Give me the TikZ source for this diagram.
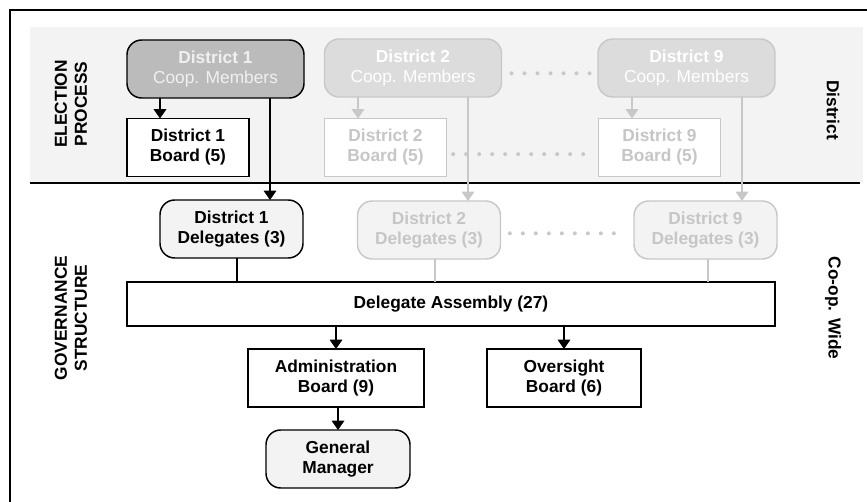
\documentclass[tikz,border=0pt]{standalone}
\usepackage{fontspec}
\setmainfont{Liberation Sans}
\usetikzlibrary{arrows.meta}

\definecolor{bandgray}{HTML}{F3F3F3}
\definecolor{darkfill}{HTML}{BBBBBB}
\definecolor{fadefill}{HTML}{DCDCDC}
\definecolor{fadeline}{HTML}{C8C8C8}
\definecolor{fadetext}{HTML}{C6C6C6}
\definecolor{lightfill}{HTML}{F3F3F3}

\begin{document}
\begin{tikzpicture}[x=0.75pt, y=-0.75pt,
	font=\fontsize{13}{15}\selectfont\bfseries,
	box/.style={draw=black, line width=1.1pt, fill=white, align=center, inner sep=0pt, outer sep=0pt, minimum height=43.5pt},
	rbox/.style={box, rounded corners=11pt},
	faded/.style={draw=fadeline, text=fadetext},
	arr/.style={line width=0.9pt, -{Triangle[width=9.5pt,length=7pt]}},
	fadearr/.style={arr, fadeline},
	dots/.style={draw=fadeline, line width=3pt, line cap=round, dash pattern=on 0pt off 9.75pt},
	side/.style={align=center}]
	
	\useasboundingbox (0,0) rectangle (867,502);
	
	% frame and election band
	\draw[line width=1.6pt] (10,502) -- (10,10) -- (867,10);
	\fill[bandgray] (30,27) rectangle (863,183);
	\draw[line width=0.8pt] (30,183) -- (860,183);
	
	% side labels
	\node[side, rotate=90]  (elec) at (71,104)  {ELECTION\\PROCESS};
	\node[side, rotate=90]  (gov)  at (71,318)  {GOVERNANCE\\STRUCTURE};
	\node[side, rotate=-90] (dist) at (833,110) {District};
	\node[side, rotate=-90] (wide) at (833,308) {Co-op. Wide};
	
	% district members
	\node[rbox, fill=darkfill, text=black!6, minimum width=132.75pt] (m1) at (215.5,69) {District 1\\{\mdseries Coop. Members}};
	\node[rbox, faded, fill=fadefill, text=white, minimum width=132.75pt] (m2) at (413,68) {District 2\\{\mdseries Coop. Members}};
	\node[rbox, faded, fill=fadefill, text=white, minimum width=132.75pt] (m9) at (686.5,68) {District 9\\{\mdseries Coop. Members}};
	
	% district boards
	\node[box, minimum width=91.5pt] (b1) at (188,147.5)   {District 1\\Board (5)};
	\node[box, faded, minimum width=91.5pt] (b2) at (385.5,147.5) {District 2\\Board (5)};
	\node[box, faded, minimum width=91.5pt] (b9) at (659.5,147.5) {District 9\\Board (5)};
	
	% delegates
	\node[rbox, fill=lightfill, minimum width=107.25pt] (d1) at (231.5,229) {District 1\\Delegates (3)};
	\node[rbox, faded, fill=lightfill, minimum width=107.25pt] (d2) at (429,230) {District 2\\Delegates (3)};
	\node[rbox, faded, fill=lightfill, minimum width=107.25pt] (d9) at (705.5,230) {District 9\\Delegates (3)};
	
	% co-op wide bodies
	\node[box, minimum width=486pt, minimum height=33pt] (asm) at (451,304) {Delegate Assembly (27)};
	\node[box, minimum width=132pt] (admin) at (336,378) {Administration\\Board (9)};
	\node[box, minimum width=115.5pt] (over) at (564,378) {Oversight\\Board (6)};
	\node[rbox, fill=lightfill, minimum width=108pt] (gm) at (338,459) {General\\Manager};
	
	% dotted gaps
	\draw[dots] ([yshift=-4pt]m2.east) ++(7.5pt,0) -- ([yshift=-4pt,xshift=-6pt]m9.west);
	\draw[dots] ([yshift=-5pt,xshift=5pt]b2.east) -- ([yshift=-5pt,xshift=-9pt]b9.west);
	\draw[dots] ([yshift=-2.5pt,xshift=7pt]d2.east) -- ([yshift=-2.5pt,xshift=-11pt]d9.west);
	
	% election arrows
	\draw[arr] (m1.south -| 160,0) -- (b1.north -| 160,0);
	\draw[arr] (m1.south -| 270,0) -- (d1.north -| 270,0);
	\draw[fadearr] (m2.south -| 358,0) -- (b2.north -| 358,0);
	\draw[fadearr] (m2.south -| 468,0) -- (d2.north -| 468,0);
	\draw[fadearr] (m9.south -| 632,0) -- (b9.north -| 632,0);
	\draw[fadearr] (m9.south -| 742,0) -- (d9.north -| 742,0);
	
	% delegates into assembly
	\draw[line width=0.9pt] (d1.south -| 237,0) -- (asm.north -| 237,0);
	\draw[line width=0.9pt, fadeline] (d2.south -| 435,0) -- (asm.north -| 435,0);
	\draw[line width=0.9pt, fadeline] (d9.south -| 708,0) -- (asm.north -| 708,0);
	
	% governance arrows
	\draw[arr] (asm.south -| admin) -- (admin.north);
	\draw[arr] (asm.south -| over) -- (over.north);
	\draw[arr] (admin.south -| gm) -- (gm.north);
	
\end{tikzpicture}
\end{document}
